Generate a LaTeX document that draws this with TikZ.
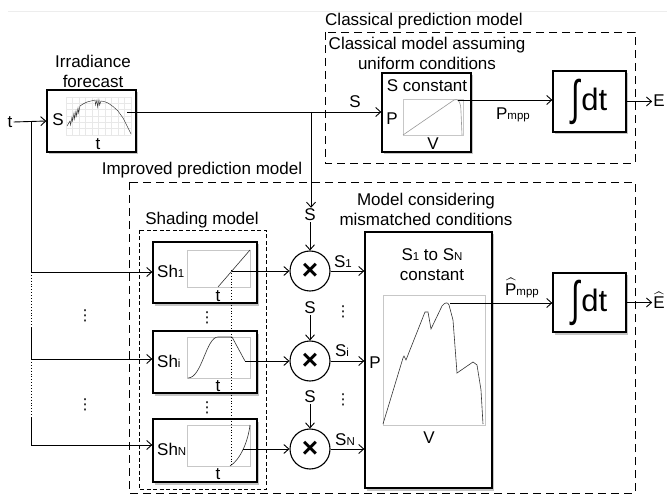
\documentclass[tikz,border=0pt]{standalone}
\usepackage{fontspec}
\usepackage{amsmath}
\setmainfont{Liberation Sans}
\newfontfamily\dejavu{DejaVu Sans}
\usetikzlibrary{arrows.meta,shadows}
\newcommand{\lo}[1]{{\fontsize{11.5}{11.5}\selectfont #1}}
\newcommand{\intdt}{{\fontsize{31}{31}\selectfont\raisebox{-4pt}{\scalebox{1}[1.55]{∫}}\kern1pt dt}}
\newcommand{\timesglyph}{{\fontsize{28}{28}\selectfont\bfseries ×}}
\newcommand{\vd}{{\dejavu\fontsize{15}{15}\selectfont ⋮}}
\begin{document}
\begin{tikzpicture}[x=1pt,y=-1pt, font=\fontsize{17}{20}\selectfont,
  blk/.style={draw, line width=1.3pt, fill=white, inner sep=0pt,
    drop shadow={shadow xshift=1.5pt, shadow yshift=-2.5pt, opacity=0.45}},
  pframe/.style={draw=black!22, line width=0.6pt},
  curve/.style={black!80, line width=0.6pt},
  ln/.style={line width=0.9pt},
  conn/.style={line width=0.9pt, -{Straight Barb[length=5pt,width=9pt]}},
  dotln/.style={line width=0.9pt, dotted},
  dbox/.style={draw, line width=0.9pt, dash pattern=on 8pt off 5pt},
  fdbox/.style={draw, line width=0.9pt, dash pattern=on 4pt off 2.5pt},
  mult/.style={circle, draw, line width=1.1pt, fill=white, minimum size=40pt, inner sep=0pt},
  lbl/.style={inner sep=1pt},
  dots/.style={inner sep=0pt},
]
\useasboundingbox (0,0) rectangle (667,497);
\draw[black!7, line width=0.6pt] (8,11) -- (667,11);

% dashed group boxes
\draw[dbox] (325,32) rectangle (635,163);
\node[lbl, anchor=west] (cpm) at (324,21) {Classical prediction model};
\node[lbl, align=center] (cma) at (427,53) {Classical model assuming\\uniform conditions};
\draw[dbox] (129,182) rectangle (635,493);
\node[lbl] (ipm) at (202,170) {Improved prediction model};
\draw[fdbox] (139,230) rectangle (266,489);
\node[lbl] (shm) at (202,220) {Shading model};
\node[lbl, align=center] (mcm) at (426,209) {Model considering\\mismatched conditions};

% blocks
\node[blk, minimum width=89pt, minimum height=62pt] (irr) at (91.5,121) {};
\node[lbl, align=center] (irrlab) at (93,71) {Irradiance\\forecast};
\node[blk, minimum width=89pt, minimum height=79pt] (scon) at (426.5,112.5) {};
\node[blk, minimum width=73pt, minimum height=61pt] (int1) at (589.5,101.5) {\intdt};
\node[blk, minimum width=73pt, minimum height=59pt] (int2) at (589.5,302.5) {\intdt};
\node[blk, minimum width=104pt, minimum height=61pt] (sh1) at (205,272.5) {};
\node[blk, minimum width=104pt, minimum height=62pt] (shi) at (205,362) {};
\node[blk, minimum width=104pt, minimum height=63pt] (shN) at (205,450.5) {};
\node[blk, minimum width=127pt, minimum height=256pt] (big) at (428.5,360) {};
\node[mult] (m1) at (310,271) {\timesglyph};
\node[mult] (mi) at (310,361) {\timesglyph};
\node[mult] (mN) at (310,449) {\timesglyph};

% irradiance plot
\foreach \gx in {66,72.5,...,131} \draw[black!9, line width=0.4pt] (\gx,97) -- (\gx,135);
\foreach \gy in {97,103.3,...,135.5} \draw[black!9, line width=0.4pt] (66,\gy) -- (131,\gy);
\draw[black!80, line width=0.45pt] (67,126) -- (70,121) -- (70.6,125) -- (72,117) -- (72.6,121)
  -- (74,113) -- (74.6,119) -- (76,111) -- (76.6,116) -- (78,108) -- (78.6,113) -- (80,106)
  -- (83,104) -- (87,102) -- (91,101) -- (95,100) -- (95.6,105) -- (97,100) -- (97.6,107)
  -- (99,100) -- (99.6,105) -- (101,101) -- (104,101.5) -- (108,103) -- (113,106.5)
  -- (118,111) -- (123,118) -- (127,126) -- (131,134);
\node[lbl] (irrS) at (58,120) {S};
\node[lbl] (irrt) at (98,144) {t};

% S constant plot
\draw[pframe] (403,99) rectangle (463,135);
\draw[curve, black!40] (403,135) -- (454,100) .. controls (458,98) and (461,102) .. (461,112) -- (462,135);
\node[lbl] (sct) at (427,86) {S constant};
\node[lbl] (scP) at (392,119) {P};
\node[lbl] (scV) at (433,144) {V};

% shading plots
\draw[pframe] (187,250) rectangle (250,287);
\draw[curve] (218,287) -- (250,250);
\node[lbl, anchor=west] (sh1l) at (156,271) {Sh\lo{1}};
\node[lbl] (sh1t) at (218,296) {t};
\draw[pframe] (187,337) rectangle (250,378);
\draw[curve] (188,378) .. controls (202,378) and (206,337) .. (218,337) -- (232,337) -- (245,361);
\node[lbl, anchor=west] (shil) at (156,361) {Sh\lo{i}};
\node[lbl] (shit) at (218,386) {t};
\draw[pframe] (187,425) rectangle (250,466);
\draw[curve] (230,466) .. controls (240,460) and (248,442) .. (250,425);
\node[lbl, anchor=west] (shNl) at (156,449) {Sh\lo{N}};
\node[lbl] (shNt) at (218,474) {t};
\draw[dotln] (231,270) -- (231,467);
\node[dots] (vd1) at (207,318) {\vd};
\node[dots] (vd2) at (207,408) {\vd};

% big plot
\draw[pframe] (383,295) rectangle (485,425);
\draw[curve] (383,424) -- (403,358) -- (404,356) -- (406,360) -- (425,312) -- (428,312)
  -- (431,329) -- (442,306) .. controls (445,302) and (448,302) .. (449,305) -- (453,320)
  -- (457,373) -- (473,362) -- (477,365) -- (481,390) -- (483,424);
\node[lbl, align=center] (bigt) at (432,265) {S\lo{1} to S\lo{N}\\constant};
\node[lbl] (bigP) at (375,363) {P};
\node[lbl] (bigV) at (429,438) {V};

% t input and branches
\node[lbl] (tin) at (10,122) {t};
\draw[conn] (tin.east) -- (irr.west);
\coordinate (tb) at (31,122);
\coordinate (b1) at (31,272);
\coordinate (d1) at (31,327);
\coordinate (b2) at (31,359);
\coordinate (d2) at (31,417);
\coordinate (b3) at (31,445);
\draw[ln] (tb) -- (b1);
\draw[dotln] (b1) -- (d1);
\draw[ln] (d1) -- (b2);
\draw[dotln] (b2) -- (d2);
\draw[ln] (d2) -- (b3);
\draw[conn] (b1) -- (b1 -| sh1.west);
\draw[conn] (b2) -- (b2 -| shi.west);
\draw[conn] (b3) -- (b3 -| shN.west);
\node[dots] (vl1) at (85,316) {\vd};
\node[dots] (vl2) at (85,405) {\vd};

% irradiance output
\coordinate (irrout) at (127,112);
\draw[conn] (irrout) -- (irrout -| scon.west);
\node[lbl] (sS) at (355,102) {S};
\coordinate (sb) at (311,112);
\node[lbl] (S1top) at (310,215) {S};
\node[lbl] (S2top) at (310,308) {S};
\node[lbl] (S3top) at (310,397) {S};
\draw[conn] (sb) -- (sb |- S1top.north);
\draw[conn] (S1top.south) -- (m1.north);
\draw[conn] (S2top.south) -- (mi.north);
\draw[conn] (S3top.south) -- (mN.north);

% shading outputs
\coordinate (o1) at (232,271);
\coordinate (o2) at (245,361);
\coordinate (o3) at (243,449);
\draw[conn] (o1) -- (m1.west);
\draw[conn] (o2) -- (mi.west);
\draw[conn] (o3) -- (mN.west);

% multiplier outputs
\draw[conn] (m1.east) -- (m1.east -| big.west);
\draw[conn] (mi.east) -- (mi.east -| big.west);
\draw[conn] (mN.east) -- (mN.east -| big.west);
\node[lbl] (S1l) at (343,262) {S\lo{1}};
\node[lbl] (Sil) at (342,351) {S\lo{i}};
\node[lbl] (SNl) at (345,440) {S\lo{N}};
\node[dots] (vm1) at (343,312) {\vd};
\node[dots] (vm2) at (343,400) {\vd};

% classical output
\coordinate (scpk) at (458,100);
\draw[conn] (scpk) -- (scpk -| int1.west);
\node[lbl] (pmpp) at (513,115) {P\lo{mpp}};
\node[lbl] (E) at (659,101) {E};
\draw[conn] (int1.east) -- (int1.east -| E.west);

% improved output
\coordinate (bigpk) at (450,303);
\draw[conn] (bigpk) -- (bigpk -| int2.west);
\node[lbl] (pmpph) at (522,288) {$\widehat{\text{P}}$\lo{mpp}};
\node[lbl] (Eh) at (659,300) {$\widehat{\text{E}}$};
\draw[conn] (int2.east) -- (int2.east -| Eh.west);
\end{tikzpicture}
\end{document}
